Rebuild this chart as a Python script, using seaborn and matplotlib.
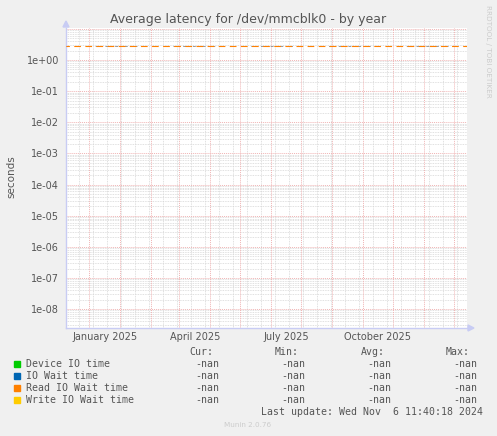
import matplotlib
matplotlib.use("Agg")
import matplotlib.pyplot as plt
from matplotlib.ticker import FixedLocator, NullFormatter
import numpy as np
import pandas as pd
import seaborn as sns

# ---- data ----
title = "Average latency for /dev/mmcblk0 - by year"
ylabel = "seconds"
series_names = ["Device IO time", "IO Wait time", "Read IO Wait time", "Write IO Wait time"]
series_colors = ["#00CC00", "#0066B3", "#FF8000", "#FFCC00"]
cur_values = ["-nan", "-nan", "-nan", "-nan"]
min_values = ["-nan", "-nan", "-nan", "-nan"]
avg_values = ["-nan", "-nan", "-nan", "-nan"]
max_values = ["-nan", "-nan", "-nan", "-nan"]
threshold_value = 2.9
x_start = "2024-11-08"
x_end = "2025-12-14"
x_label_dates = ["2024-12-17", "2025-03-17", "2025-06-16", "2025-09-16"]
x_tick_labels = ["January 2025", "April 2025", "July 2025", "October 2025"]
y_min, y_max = 2.45e-9, 10.7
last_update = "Last update: Wed Nov  6 11:40:18 2024"
version = "Munin 2.0.76"
side_text = "RRDTOOL / TOBI OETIKER"

sns.set_style("white")
plt.rcParams['font.family'] = ['DejaVu Sans']

W, H = 497, 436
fig = plt.figure(figsize=(W / 100, H / 100), dpi=100)
fig.patch.set_facecolor("#F0F0F0")

L, R, T, B = 66, 467, 28, 328
ax = fig.add_axes([L / W, 1 - B / H, (R - L) / W, (B - T) / H])
ax.set_facecolor("white")

t0 = pd.Timestamp(x_start)
t1 = pd.Timestamp(x_end)
ax.set_xlim(t0, t1)
ax.set_yscale("log")
ax.set_ylim(y_min, y_max)

# grids
minor_col = "#d6d6d6"
major_col = "#f0b4b4"
dot = (0, (1, 1))
d = pd.Timestamp("2024-11-21")
while d < t1:
    ax.axvline(d, color=minor_col, lw=0.6, ls=dot, zorder=1)
    d += pd.Timedelta(days=14)
for e in range(-10, 2):
    for k in range(2, 10):
        v = k * 10.0 ** e
        if y_min < v < y_max:
            ax.axhline(v, color=minor_col, lw=0.6, ls=dot, zorder=1)
for m in pd.date_range("2024-12-01", t1, freq="MS"):
    ax.axvline(m, color=major_col, lw=0.7, ls=dot, zorder=2)
for e in range(-9, 2):
    v = 10.0 ** e
    if y_min < v < y_max:
        ax.axhline(v, color=major_col, lw=0.7, ls=dot, zorder=2)

# threshold dashed line (grey underneath, orange dashes)
ax.axhline(threshold_value, color="#999999", lw=0.7, ls=(0, (3, 7)), zorder=3)
ax.axhline(threshold_value, color="#FF8000", lw=0.8, ls=(3, (6, 4)), zorder=4)

# empty series (all nan)
for name, col in zip(series_names, series_colors):
    ax.plot([t0, t1], [np.nan, np.nan], color=col, label=name)

# ticks
ax.yaxis.set_major_locator(FixedLocator([10.0 ** e for e in range(-8, 1)]))
ax.yaxis.set_minor_locator(FixedLocator([k * 10.0 ** e for e in range(-9, 1) for k in range(2, 10)]))
ax.yaxis.set_minor_formatter(NullFormatter())
ax.set_yticklabels([f"1e{e:+03d}" for e in range(-8, 1)])
ax.tick_params(axis="y", which="major", length=3, color="#bbbbbb", labelsize=7, labelcolor="#555555", pad=2)
ax.tick_params(axis="y", which="minor", length=2, color="#cccccc")
ax.set_xticks([pd.Timestamp(x) for x in x_label_dates])
ax.set_xticklabels(x_tick_labels)
ax.tick_params(axis="x", which="major", length=0, labelsize=7, labelcolor="#555555", pad=3)

for s in ["top", "right"]:
    ax.spines[s].set_visible(False)
axis_col = "#c8ccf4"
ax.spines["left"].set_color(axis_col)
ax.spines["bottom"].set_color(axis_col)
ax.spines["left"].set_linewidth(1)
ax.spines["bottom"].set_linewidth(1)

# arrows
fig.patches.append(matplotlib.patches.Polygon(
    [[(L - 3) / W, 1 - (T - 1) / H], [(L + 3) / W, 1 - (T - 1) / H], [L / W, 1 - (T - 7) / H]],
    closed=True, transform=fig.transFigure, color=axis_col))
fig.patches.append(matplotlib.patches.Polygon(
    [[(R + 1) / W, 1 - (B - 3) / H], [(R + 1) / W, 1 - (B + 3) / H], [(R + 7) / W, 1 - B / H]],
    closed=True, transform=fig.transFigure, color=axis_col))

fig.text(11 / W, 1 - 177 / H, ylabel, rotation=90, ha="center", va="center", fontsize=7.5, color="#555555")

fig.text(248.5 / W, 1 - 19 / H, title, ha="center", va="center", fontsize=9, color="#555555")
fig.text(488 / W, 1 - 5 / H, side_text, ha="center", va="top", rotation=270, fontsize=5.2, color="#cccccc")

mono = dict(family="DejaVu Sans Mono", fontsize=7.1, color="#555555", va="center")
fig.text(213 / W, 1 - 352 / H, "Cur:", ha="right", **mono)
fig.text(299 / W, 1 - 352 / H, "Min:", ha="right", **mono)
fig.text(385 / W, 1 - 352 / H, "Avg:", ha="right", **mono)
fig.text(470 / W, 1 - 352 / H, "Max:", ha="right", **mono)
rows_y = [364, 376, 388, 400]
for i, name in enumerate(series_names):
    y = rows_y[i]
    fig.patches.append(matplotlib.patches.Rectangle(
        (14 / W, 1 - (y + 3) / H), 6 / W, 6 / H, transform=fig.transFigure, color=series_colors[i]))
    fig.text(26 / W, 1 - y / H, name, ha="left", **mono)
    fig.text(219 / W, 1 - y / H, cur_values[i], ha="right", **mono)
    fig.text(305 / W, 1 - y / H, min_values[i], ha="right", **mono)
    fig.text(391 / W, 1 - y / H, avg_values[i], ha="right", **mono)
    fig.text(477 / W, 1 - y / H, max_values[i], ha="right", **mono)
fig.text(483 / W, 1 - 412 / H, last_update, ha="right", **mono)
fig.text(248 / W, 1 - 425 / H, version, ha="center", va="center", fontsize=5.2, color="#cccccc")

fig.savefig("out.png", dpi=100, facecolor=fig.get_facecolor())
